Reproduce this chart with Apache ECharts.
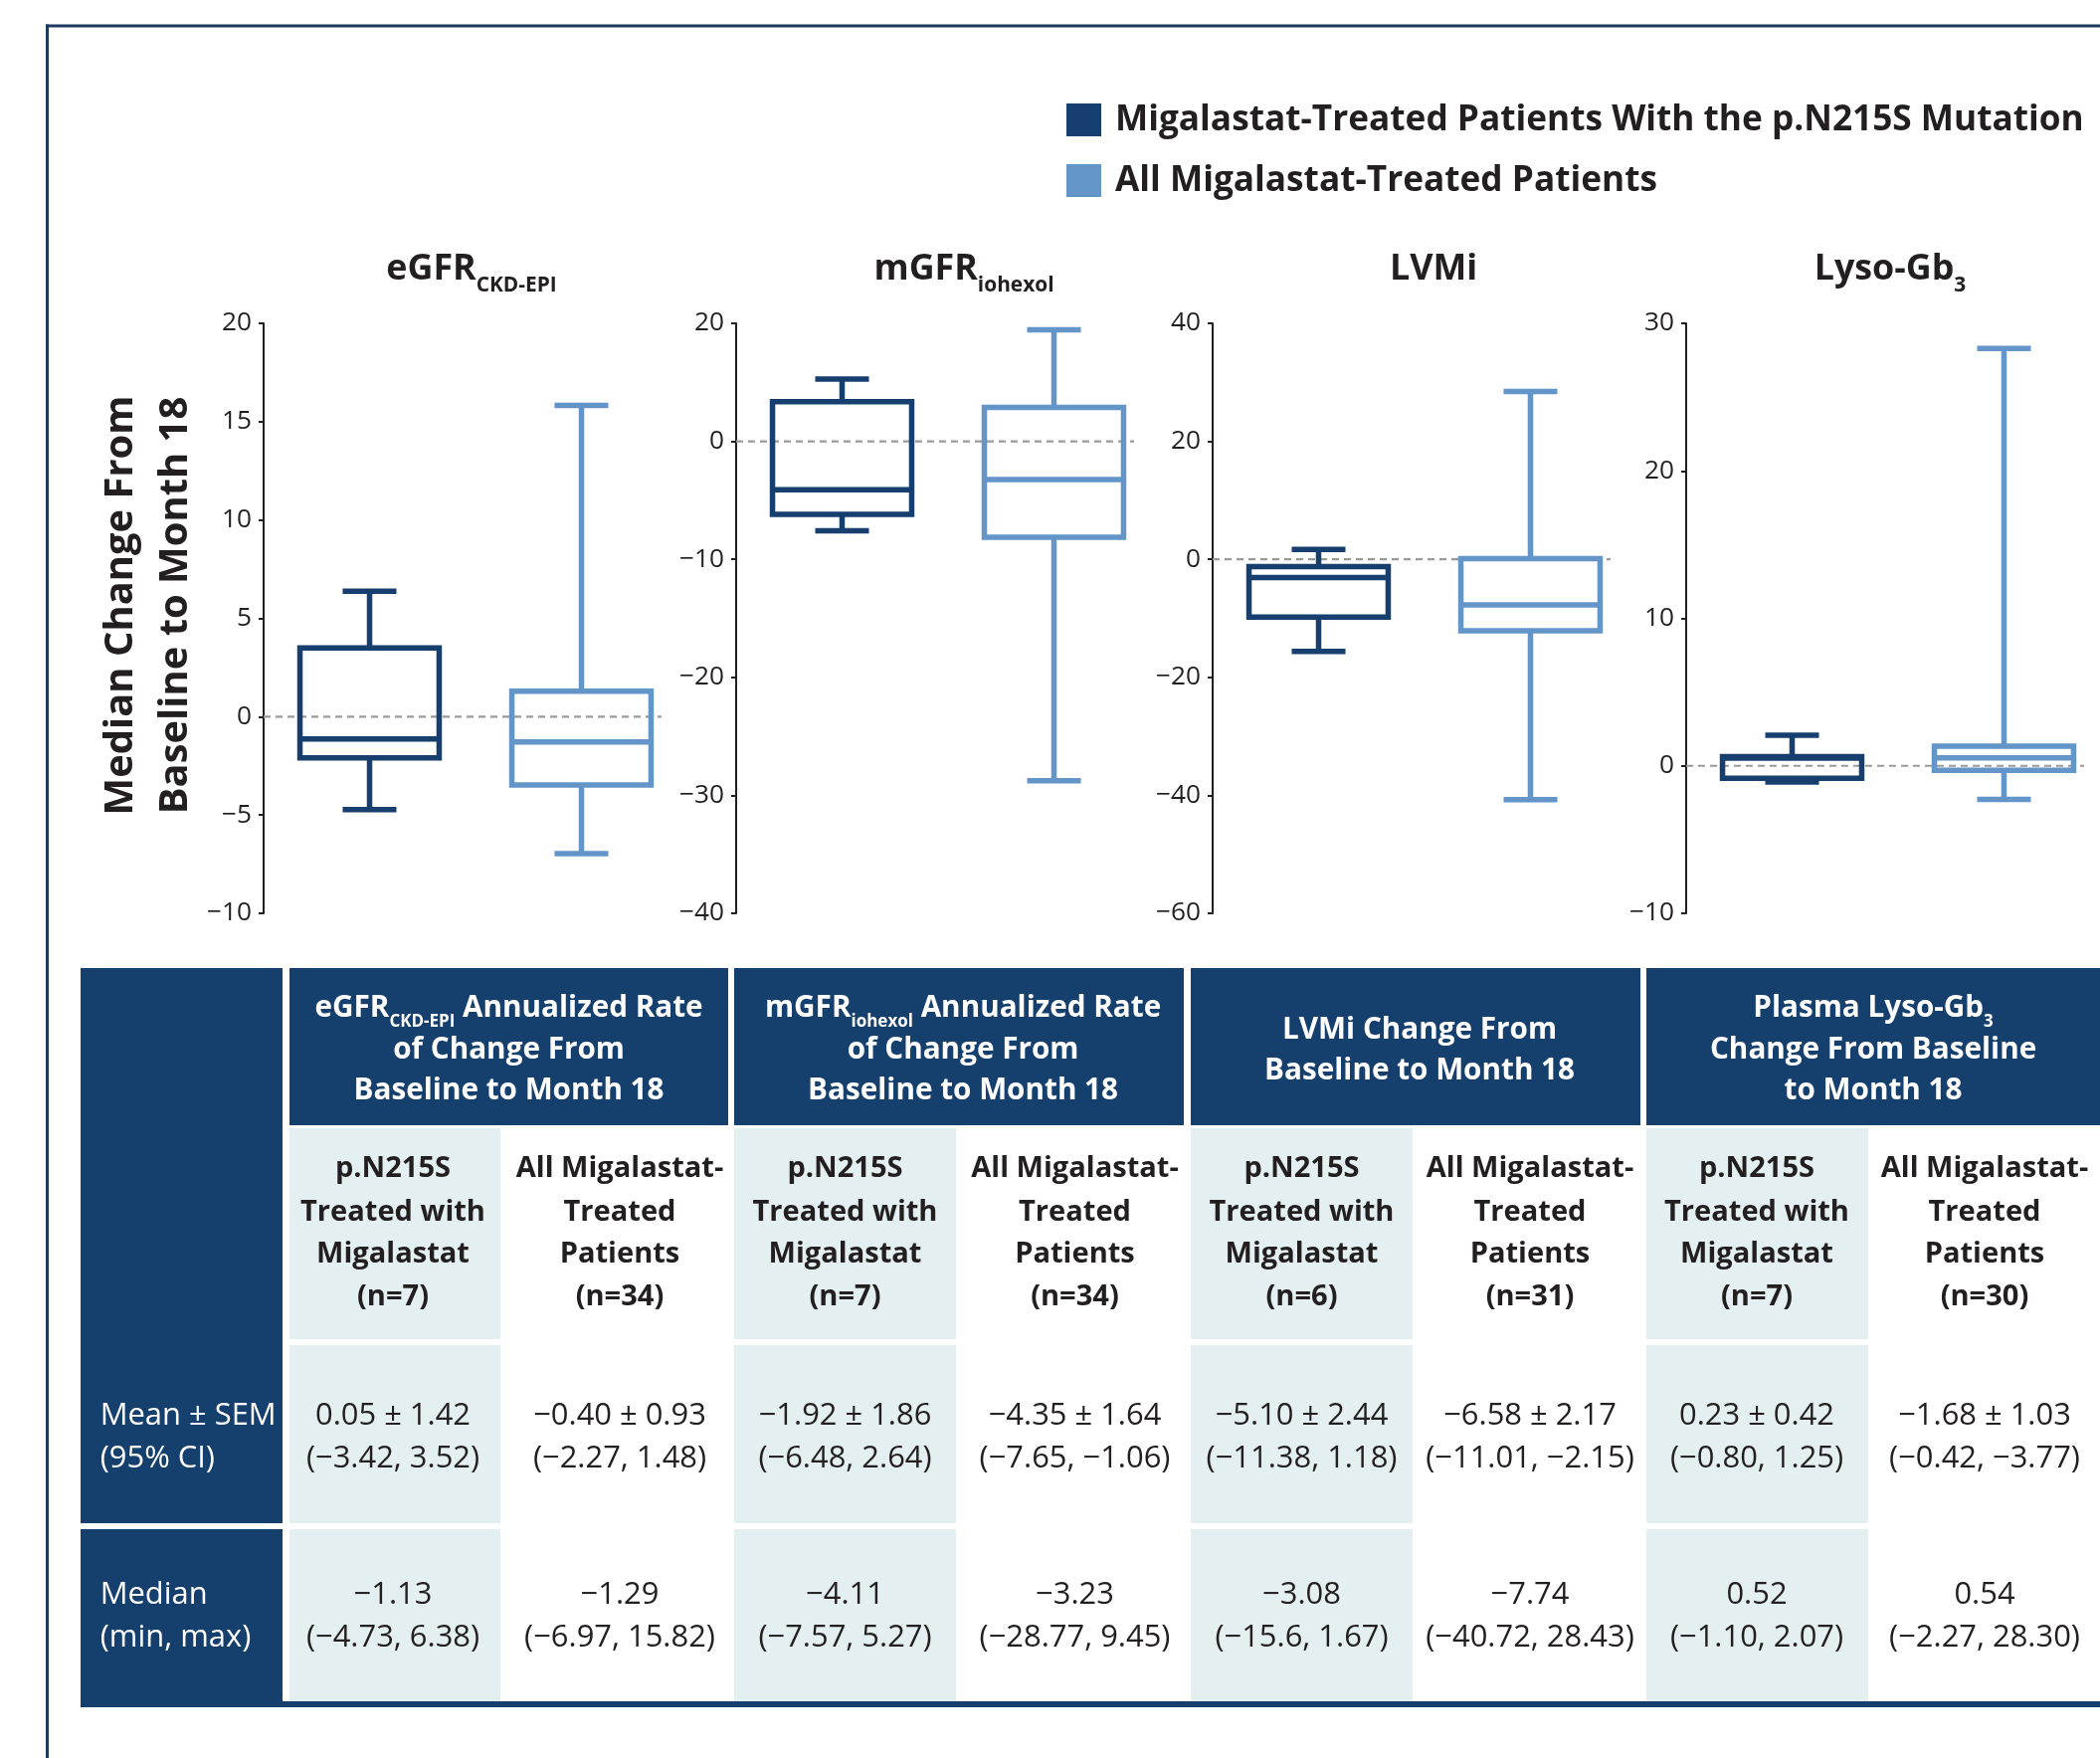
<!DOCTYPE html>
<html><head><meta charset="utf-8">
<script src="https://cdn.jsdelivr.net/npm/echarts@6/dist/echarts.min.js"></script>
<style>html,body{margin:0;padding:0;background:#fff;overflow:hidden}#main{width:2111px;height:1767px}</style>
</head><body><div id="main"></div>
<script>
// ================= DATA =================
const groupNames = ['Migalastat-Treated Patients With the p.N215S Mutation', 'All Migalastat-Treated Patients'];
const categories = ['p.N215S', 'All'];
const titleMain = ['eGFR', 'mGFR', 'LVMi', 'Lyso-Gb'];
const titleSub = ['CKD-EPI', 'iohexol', '', '3'];
// box statistics  [panel][group]  (group 0 = p.N215S, group 1 = all)
const boxMin    = [[-4.73, -6.97], [-7.57, -28.77], [-15.6, -40.72], [-1.10, -2.27]];
const boxQ1     = [[-2.09, -3.48], [-6.19, -8.13],  [-9.8, -12.1],   [-0.84, -0.31]];
const boxMedian = [[-1.13, -1.29], [-4.11, -3.23],  [-3.08, -7.74],  [0.52, 0.54]];
const boxQ3     = [[3.5, 1.3],     [3.35, 2.88],    [-1.25, 0.1],    [0.62, 1.34]];
const boxMax    = [[6.38, 15.82],  [5.27, 9.45],    [1.67, 28.43],   [2.07, 28.30]];
const minDecimals = [[2, 2], [2, 2], [1, 2], [2, 2]];
// y axes
const yMin = [-10, -40, -60, -10];
const yMax = [20, 10, 40, 30];
const yStep = [5, 10, 20, 10];
const yTickLabels = [
  ['−10', '−5', '0', '5', '10', '15', '20'],
  ['−40', '−30', '−20', '−10', '0', '20'],
  ['−60', '−40', '−20', '0', '20', '40'],
  ['−10', '0', '10', '20', '30']
];
const yAxisTitle = ['Median Change From', 'Baseline to Month 18'];
// table
const nPatients = [[7, 34], [7, 34], [6, 31], [7, 30]];
const meanVal = [[0.05, -0.40], [-1.92, -4.35], [-5.10, -6.58], [0.23, -1.68]];
const semVal  = [[1.42, 0.93], [1.86, 1.64], [2.44, 2.17], [0.42, 1.03]];
const ciLow   = [[-3.42, -2.27], [-6.48, -7.65], [-11.38, -11.01], [-0.80, -0.42]];
const ciHigh  = [[3.52, 1.48], [2.64, -1.06], [1.18, -2.15], [1.25, -3.77]];
const tableHeaders = [
  [[['eGFR', 0], ['CKD-EPI', 1], [' Annualized Rate', 0]], [['of Change From', 0]], [['Baseline to Month 18', 0]]],
  [[['mGFR', 0], ['iohexol', 1], [' Annualized Rate', 0]], [['of Change From', 0]], [['Baseline to Month 18', 0]]],
  [[['LVMi Change From', 0]], [['Baseline to Month 18', 0]]],
  [[['Plasma Lyso-Gb', 0], ['3', 1]], [['Change From Baseline', 0]], [['to Month 18', 0]]]
];
const subHeadA = ['p.N215S', 'Treated with', 'Migalastat'];
const subHeadB = ['All Migalastat-', 'Treated', 'Patients'];
const rowLabels = [['Mean ± SEM', '(95% CI)'], ['Median', '(min, max)']];

// ================= STYLE / LAYOUT =================
const FONT = '"Open Sans", "Noto Sans", "DejaVu Sans", sans-serif';
const INK = '#231f20', NAVY = '#153f6d', DARK = '#163f6f', LIGHT = '#6495c8',
      CELL = '#e4eff1', FRAME = '#1c3a5e', ZERO = '#9a9a9a';
const LW = 5.5, BOX_RATIO = 0.657, CAP_RATIO = 0.386;
const gridLeft = [265, 740, 1219, 1695], GRID_TOP = 325, GRID_H = 593, GRID_W = 426;
const titleCenters = [474, 969, 1441, 1900], TITLE_BASE = 280;

const ctx = document.createElement('canvas').getContext('2d');
function tw(t, w, s) { ctx.font = w + ' ' + s + 'px ' + FONT; return ctx.measureText(t).width; }
function fitSize(t, w, target) { return 100 * target / tw(t, w, 100); }
const K = 0.27;
function T(t, x, base, size, weight, color, align) {
  return { type: 'text', silent: true, x: x, y: base - K * size,
    style: { text: t, font: weight + ' ' + size.toFixed(2) + 'px ' + FONT, fill: color,
      textAlign: align || 'center', textVerticalAlign: 'middle' } };
}
function mixedLine(segs, cx, base, size, subSize, drop, weight, color) {
  const ws = segs.map(s => tw(s[0], weight, s[1] ? subSize : size));
  let x = cx - ws.reduce((a, b) => a + b, 0) / 2;
  const out = [];
  segs.forEach((s, i) => {
    const sz = s[1] ? subSize : size;
    out.push(T(s[0], x, base + (s[1] ? drop : 0), sz, weight, color, 'left'));
    x += ws[i];
  });
  return out;
}
function fmt(v, d) { d = d == null ? 2 : d; return (v < 0 ? '−' : '') + Math.abs(v).toFixed(d); }

const legendSize = fitSize('All Migalastat-Treated Patients', 'bold', 545);
const titleSize = fitSize('eGFR', 'bold', 90.4);
const titleSubSize = fitSize('CKD-EPI', 'bold', 81);
const yTitleSize = fitSize('Median Change From', 'bold', 422);
const tickSize = fitSize('20', 'normal', 30);
const headSize = fitSize('Baseline to Month 18', 'bold', 312);
const headSubSize = fitSize('CKD-EPI', 'bold', 66);
const subHeadSize = fitSize('Treated with', 'bold', 186);
const dataSize = fitSize('0.05 ± 1.42', 'normal', 156);
const leftSize = fitSize('Mean ± SEM', 'normal', 177);

// ================= CHART =================
const grids = [], xAxes = [], yAxes = [], series = [];
for (let p = 0; p < 4; p++) {
  grids.push({ left: gridLeft[p], top: GRID_TOP, width: GRID_W, height: GRID_H, outerBoundsMode: 'none', containLabel: false });
  xAxes.push({ type: 'category', gridIndex: p, data: categories, show: false });
  const labels = yTickLabels[p], mn = yMin[p], st = yStep[p];
  yAxes.push({ type: 'value', gridIndex: p, min: mn, max: yMax[p], interval: st,
    axisLine: { show: true, lineStyle: { color: INK, width: 2 } },
    axisTick: { show: true, length: 5, lineStyle: { color: INK, width: 2 } },
    splitLine: { show: false },
    axisLabel: { margin: 12, color: INK, fontSize: tickSize, fontFamily: FONT,
      formatter: v => labels[Math.round((v - mn) / st)] }
  });
  // zero reference line
  series.push({ type: 'custom', name: 'zero', xAxisIndex: p, yAxisIndex: p, silent: true, z: 1,
    data: [[0, 0]],
    renderItem: (params, api) => {
      const y0 = api.coord([0, 0])[1];
      const band = api.size([1, 0])[0];
      const xEnd = api.coord([1, 0])[0] + band * BOX_RATIO / 2 + 10.5;
      return { type: 'line', shape: { x1: params.coordSys.x, y1: y0, x2: xEnd, y2: y0 },
        style: { stroke: ZERO, lineWidth: 2.2, lineDash: [7, 5] } };
    } });
  for (let g = 0; g < 2; g++) {
    const color = g === 0 ? DARK : LIGHT;
    series.push({ type: 'custom', name: groupNames[g], xAxisIndex: p, yAxisIndex: p, z: 3,
      itemStyle: { color: color },
      encode: { x: 0, y: [1, 2, 3, 4, 5] },
      data: [[g, boxMin[p][g], boxQ1[p][g], boxMedian[p][g], boxQ3[p][g], boxMax[p][g]]],
      renderItem: (params, api) => {
        const cat = api.value(0);
        const yy = i => api.coord([cat, api.value(i)])[1];
        const cx = api.coord([cat, 0])[0];
        const band = api.size([1, 0])[0];
        const bw = band * BOX_RATIO, cw = bw * CAP_RATIO;
        const yMn = yy(1), yQ1 = yy(2), yMd = yy(3), yQ3 = yy(4), yMx = yy(5);
        const st = { stroke: color, lineWidth: LW, fill: null };
        return { type: 'group', children: [
          { type: 'line', shape: { x1: cx, y1: yMx, x2: cx, y2: yQ3 }, style: st },
          { type: 'line', shape: { x1: cx, y1: yQ1, x2: cx, y2: yMn }, style: st },
          { type: 'line', shape: { x1: cx - cw / 2, y1: yMx, x2: cx + cw / 2, y2: yMx }, style: st },
          { type: 'line', shape: { x1: cx - cw / 2, y1: yMn, x2: cx + cw / 2, y2: yMn }, style: st },
          { type: 'rect', shape: { x: cx - bw / 2, y: yQ3, width: bw, height: yQ1 - yQ3 }, style: { stroke: color, lineWidth: LW, fill: 'none' } },
          { type: 'line', shape: { x1: cx - bw / 2, y1: yMd, x2: cx + bw / 2, y2: yMd }, style: st }
        ] };
      } });
  }
}

// ================= GRAPHICS (frame, titles, table) =================
const gfx = [];
gfx.push({ type: 'rect', silent: true, shape: { x: 46, y: 24.5, width: 2070, height: 3 }, style: { fill: FRAME } });
gfx.push({ type: 'rect', silent: true, shape: { x: 46, y: 24.5, width: 3, height: 1750 }, style: { fill: FRAME } });

// panel titles
for (let p = 0; p < 4; p++) {
  const segs = [[titleMain[p], 0]];
  if (titleSub[p]) segs.push([titleSub[p], 1]);
  mixedLine(segs, titleCenters[p], TITLE_BASE, titleSize, titleSubSize, 13, 'bold', INK).forEach(e => gfx.push(e));
}
// y axis title (rotated)
[132.6, 187.5].forEach((bx, i) => {
  gfx.push({ type: 'text', silent: true, x: bx - K * yTitleSize, y: 608.5, rotation: Math.PI / 2,
    style: { text: yAxisTitle[i], font: 'bold ' + yTitleSize.toFixed(2) + 'px ' + FONT, fill: INK,
      textAlign: 'center', textVerticalAlign: 'middle' } });
});

// table geometry
const TBL_L = 81, LEFT_R = 284;
const groupX = [[291, 732], [738, 1190], [1197, 1649], [1655, 2130]];
const lightX = [[291, 503], [738, 961], [1197, 1420], [1655, 1878]];
const headCenters = [511.5, 968, 1427, 1883];
const lightCenters = [395, 849.5, 1308.5, 1766];
const whiteCenters = [623, 1080.5, 1538, 1995];
const HEAD = [973, 1131], SUB = [1134, 1346], MEAN = [1352, 1531], MED = [1537, 1710];
const rect = (x, y, w, h, c) => ({ type: 'rect', silent: true, shape: { x, y, width: w, height: h }, style: { fill: c } });

gfx.push(rect(TBL_L, HEAD[0], LEFT_R - TBL_L, MEAN[1] - HEAD[0], NAVY));
gfx.push(rect(TBL_L, MED[0], LEFT_R - TBL_L, MED[1] - MED[0] + 6, NAVY));
gfx.push(rect(TBL_L, MED[1], 2111 - TBL_L + 10, 6, NAVY));
for (let p = 0; p < 4; p++) {
  gfx.push(rect(groupX[p][0], HEAD[0], groupX[p][1] - groupX[p][0], HEAD[1] - HEAD[0], NAVY));
  [SUB, MEAN, MED].forEach(r => gfx.push(rect(lightX[p][0], r[0], lightX[p][1] - lightX[p][0], r[1] - r[0], CELL)));
  // header text
  const lines = tableHeaders[p];
  const bases = lines.length === 3 ? [1021.7, 1063.3, 1105] : [1043.3, 1085];
  lines.forEach((segs, i) => mixedLine(segs, headCenters[p], bases[i], headSize, headSubSize, 10.5, 'bold', '#ffffff').forEach(e => gfx.push(e)));
  // sub header
  const subBases = [1183, 1226.7, 1269, 1311.7];
  const colA = subHeadA.concat(['(n=' + nPatients[p][0] + ')']);
  const colB = subHeadB.concat(['(n=' + nPatients[p][1] + ')']);
  colA.forEach((t, i) => gfx.push(T(t, lightCenters[p], subBases[i], subHeadSize, 'bold', INK)));
  colB.forEach((t, i) => gfx.push(T(t, whiteCenters[p], subBases[i], subHeadSize, 'bold', INK)));
  // data rows
  [0, 1].forEach(g => {
    const cx = g === 0 ? lightCenters[p] : whiteCenters[p];
    gfx.push(T(fmt(meanVal[p][g]) + ' ± ' + fmt(semVal[p][g]), cx, 1431.7, dataSize, 'normal', INK));
    gfx.push(T('(' + fmt(ciLow[p][g]) + ', ' + fmt(ciHigh[p][g]) + ')', cx, 1475, dataSize, 'normal', INK));
    gfx.push(T(fmt(boxMedian[p][g]), cx, 1611.7, dataSize, 'normal', INK));
    gfx.push(T('(' + fmt(boxMin[p][g], minDecimals[p][g]) + ', ' + fmt(boxMax[p][g]) + ')', cx, 1655, dataSize, 'normal', INK));
  });
}
[[1431.7, 1475], [1611.7, 1655]].forEach((bs, r) => {
  bs.forEach((b, i) => gfx.push(T(rowLabels[r][i], 100.7, b, leftSize, 'normal', '#ffffff', 'left')));
});

const chart = echarts.init(document.getElementById('main'), null, { renderer: 'canvas' });
chart.setOption({
  animation: false,
  backgroundColor: '#ffffff',
  legend: { data: groupNames, orient: 'vertical', left: 1072, top: 103, icon: 'rect', padding: 0,
    itemWidth: 35, itemHeight: 33, itemGap: 26, selectedMode: false,
    textStyle: { color: INK, fontSize: legendSize, fontWeight: 'bold', fontFamily: FONT, lineHeight: 33, padding: [0, 0, 0, 9] } },
  grid: grids, xAxis: xAxes, yAxis: yAxes, series: series,
  graphic: { elements: gfx }
});
</script></body></html>
